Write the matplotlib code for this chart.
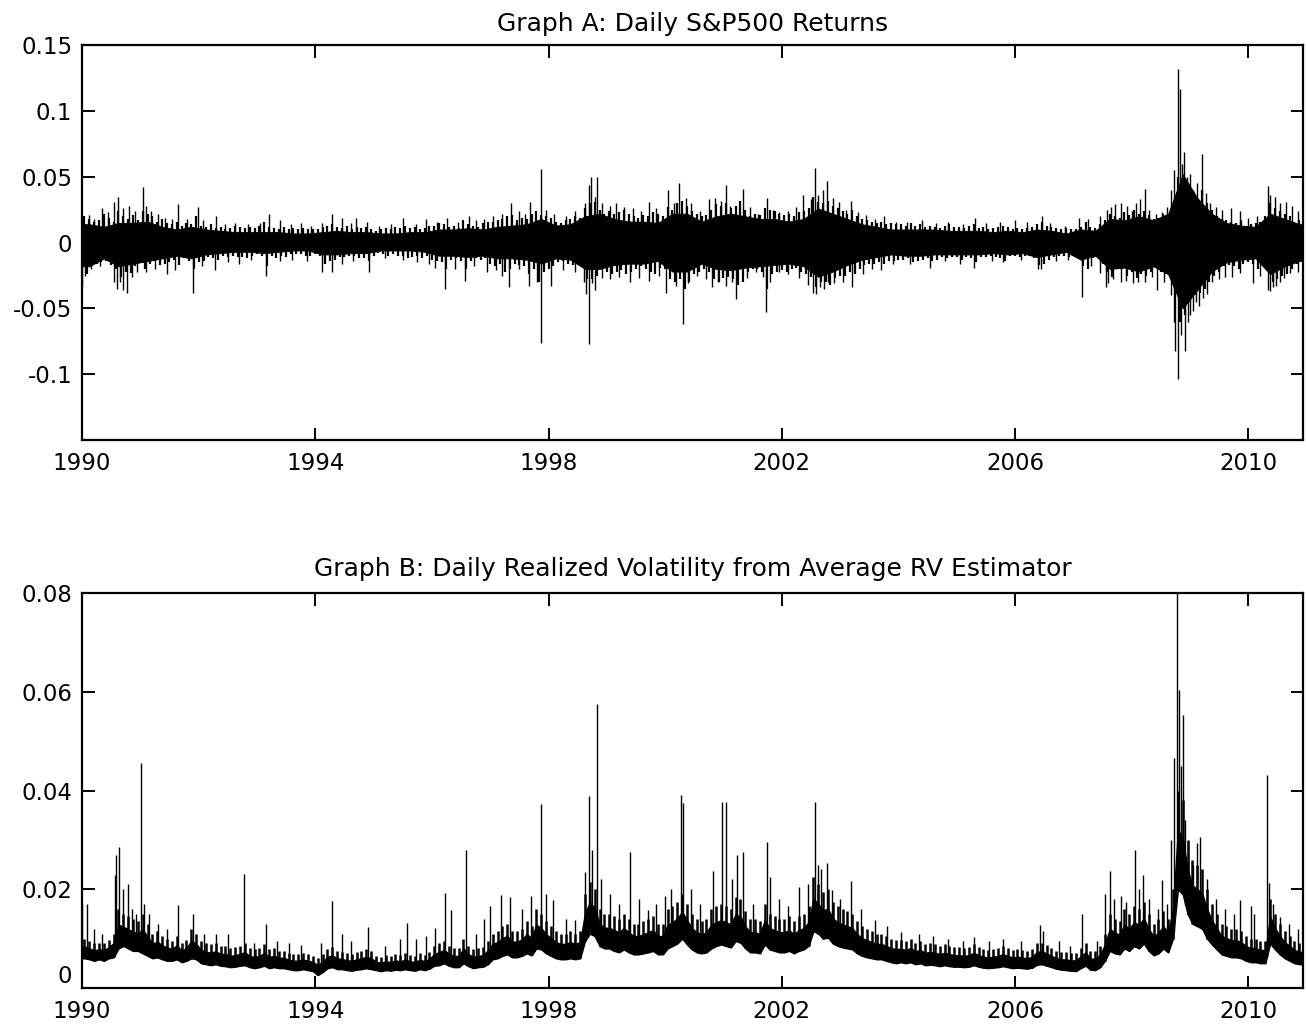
import numpy as np
import matplotlib
matplotlib.use("Agg")
import matplotlib.pyplot as plt

plt.rcParams["font.family"] = ["DejaVu Sans"]
plt.rcParams["font.size"] = 16.5

# ---------------- Graph A: daily returns ----------------
# dense core of the returns per quarter (1990Q1 .. 2010Q4)
ret_core_hi = [0.014, 0.012, 0.015, 0.015, 0.016, 0.012, 0.010, 0.012,
               0.010, 0.009, 0.008, 0.008, 0.008, 0.008, 0.007, 0.007,
               0.008, 0.009, 0.008, 0.008, 0.007, 0.007, 0.008, 0.008,
               0.010, 0.010, 0.011, 0.010, 0.012, 0.013, 0.014, 0.018,
               0.013, 0.014, 0.020, 0.022, 0.018, 0.016, 0.016, 0.015,
               0.022, 0.022, 0.016, 0.020, 0.022, 0.020, 0.018, 0.018,
               0.016, 0.018, 0.026, 0.022, 0.018, 0.014, 0.012, 0.010,
               0.010, 0.010, 0.010, 0.009, 0.009, 0.009, 0.008, 0.009,
               0.008, 0.010, 0.009, 0.007, 0.010, 0.009, 0.018, 0.017,
               0.020, 0.017, 0.022, 0.052, 0.034, 0.022, 0.015, 0.013,
               0.012, 0.022, 0.018, 0.014]
ret_core_lo = [-0.018, -0.012, -0.018, -0.016, -0.014, -0.012, -0.010, -0.012,
               -0.009, -0.008, -0.007, -0.007, -0.008, -0.007, -0.006, -0.006,
               -0.009, -0.009, -0.008, -0.008, -0.006, -0.006, -0.006, -0.007,
               -0.010, -0.010, -0.011, -0.010, -0.012, -0.012, -0.013, -0.016,
               -0.012, -0.013, -0.020, -0.020, -0.017, -0.016, -0.016, -0.014,
               -0.022, -0.022, -0.016, -0.020, -0.021, -0.019, -0.018, -0.017,
               -0.016, -0.018, -0.026, -0.022, -0.017, -0.013, -0.011, -0.009,
               -0.010, -0.010, -0.009, -0.009, -0.009, -0.009, -0.008, -0.009,
               -0.008, -0.011, -0.009, -0.007, -0.013, -0.010, -0.020, -0.019,
               -0.022, -0.018, -0.024, -0.050, -0.036, -0.022, -0.015, -0.013,
               -0.012, -0.024, -0.018, -0.014]

# largest up / down move of each month (Jan 1990 .. Nov 2010)
ret_month_up = [
    .020, .018, .016, .017, .022, .019, .016, .024, .020, .018, .021, .017,
    .024, .022, .020, .016, .018, .015, .014, .016, .013, .015, .014, .020,
    .013, .012, .014, .011, .012, .010, .011, .013, .012, .011, .012, .011,
    .013, .016, .012, .011, .010, .012, .010, .011, .010, .011, .010, .010,
    .010, .012, .013, .014, .012, .011, .013, .010, .012, .011, .012, .010,
    .009, .010, .011, .010, .012, .011, .013, .011, .012, .010, .011, .013,
    .013, .015, .014, .012, .013, .011, .017, .014, .013, .012, .015, .016,
    .016, .017, .018, .020, .021, .017, .019, .018, .022, .024, .021, .020,
    .019, .016, .015, .017, .018, .020, .019, .026, .030, .031, .025, .022,
    .024, .022, .023, .025, .022, .020, .019, .021, .020, .023, .022, .020,
    .027, .025, .030, .032, .028, .024, .022, .020, .021, .025, .029, .028,
    .030, .026, .028, .032, .025, .020, .022, .021, .026, .025, .024, .022,
    .021, .022, .020, .023, .024, .026, .035, .031, .030, .032, .028, .026,
    .024, .022, .025, .020, .018, .017, .016, .015, .016, .014, .015, .014,
    .014, .013, .015, .013, .014, .012, .013, .012, .011, .013, .014, .012,
    .012, .011, .013, .014, .011, .012, .010, .011, .012, .013, .012, .010,
    .011, .010, .011, .012, .014, .016, .013, .012, .011, .010, .011, .010,
    .010, .012, .016, .012, .011, .014, .017, .022, .020, .019, .023, .021,
    .025, .022, .024, .021, .018, .019, .022, .021, .028, .050, .045, .040,
    .035, .032, .040, .030, .025, .020, .018, .017, .016, .015, .017, .013,
    .014, .015, .016, .020, .030, .026, .024, .022, .020, .016, .017]
ret_month_dn = [
    -.024, -.018, -.016, -.015, -.014, -.017, -.020, -.026, -.022, -.023, -.018, -.015,
    -.020, -.016, -.014, -.017, -.016, -.015, -.013, -.017, -.012, -.014, -.020, -.015,
    -.014, -.011, -.012, -.013, -.010, -.011, -.010, -.011, -.011, -.012, -.010, -.009,
    -.010, -.018, -.010, -.012, -.010, -.011, -.009, -.009, -.009, -.010, -.010, -.009,
    -.010, -.016, -.014, -.013, -.011, -.011, -.010, -.010, -.012, -.012, -.014, -.010,
    -.008, -.009, -.010, -.009, -.010, -.010, -.012, -.011, -.010, -.012, -.010, -.013,
    -.014, -.015, -.020, -.013, -.012, -.014, -.020, -.014, -.012, -.013, -.012, -.016,
    -.018, -.016, -.022, -.020, -.016, -.017, -.018, -.024, -.020, -.030, -.022, -.020,
    -.018, -.015, -.014, -.016, -.017, -.016, -.018, -.028, -.028, -.025, -.020, -.022,
    -.024, -.022, -.021, -.024, -.022, -.020, -.018, -.020, -.022, -.024, -.019, -.020,
    -.028, -.030, -.028, -.035, -.030, -.024, -.022, -.020, -.022, -.028, -.030, -.027,
    -.026, -.028, -.032, -.030, -.022, -.020, -.020, -.022, -.035, -.024, -.022, -.021,
    -.022, -.020, -.019, -.022, -.024, -.026, -.034, -.030, -.030, -.032, -.027, -.025,
    -.025, -.022, -.024, -.020, -.017, -.016, -.016, -.015, -.016, -.014, -.014, -.013,
    -.013, -.012, -.015, -.014, -.013, -.012, -.014, -.013, -.011, -.012, -.011, -.011,
    -.013, -.011, -.012, -.015, -.011, -.011, -.010, -.011, -.012, -.014, -.010, -.010,
    -.011, -.010, -.010, -.012, -.017, -.016, -.013, -.011, -.010, -.010, -.011, -.010,
    -.011, -.018, -.020, -.012, -.011, -.016, -.022, -.026, -.020, -.020, -.025, -.022,
    -.027, -.024, -.025, -.022, -.019, -.022, -.024, -.020, -.035, -.060, -.055, -.045,
    -.040, -.038, -.035, -.030, -.025, -.022, -.018, -.017, -.018, -.020, -.016, -.015,
    -.016, -.020, -.014, -.015, -.030, -.028, -.025, -.024, -.020, -.016, -.014]

# individual large returns (decimal year, return)
ret_spike_t = [1990.00, 1990.02, 1990.05, 1990.12, 1990.15, 1990.20, 1990.30, 1990.35,
               1990.45, 1990.55, 1990.55, 1990.60, 1990.62, 1990.65, 1990.70, 1990.70,
               1990.77, 1990.80, 1990.85, 1990.90, 1990.95, 1991.04, 1991.10, 1991.10,
               1991.18, 1991.25, 1991.30, 1991.42, 1991.45, 1991.55, 1991.60, 1991.64,
               1991.80, 1991.90, 1991.99, 1992.05, 1992.08, 1992.28, 1992.29, 1992.45,
               1992.50, 1992.62, 1992.70, 1992.85, 1992.90, 1993.05, 1993.15, 1993.21,
               1993.40, 1993.40, 1993.58, 1993.60, 1993.75, 1993.85, 1993.92, 1994.12,
               1994.12, 1994.28, 1994.28, 1994.45, 1994.45, 1994.62, 1994.65, 1994.70,
               1994.88, 1994.92, 1995.10, 1995.20, 1995.30, 1995.50, 1995.50, 1995.72,
               1995.75, 1995.90, 1995.95, 1996.05, 1996.08, 1996.23, 1996.26, 1996.40,
               1996.45, 1996.57, 1996.63, 1996.72, 1996.75, 1996.90, 1996.95, 1997.05,
               1997.10, 1997.20, 1997.20, 1997.32, 1997.35, 1997.50, 1997.50, 1997.60,
               1997.67, 1997.69, 1997.80, 1997.87, 1997.87, 1997.95, 1998.05, 1998.10,
               1998.25, 1998.30, 1998.45, 1998.45, 1998.60, 1998.62, 1998.65, 1998.70,
               1998.70, 1998.73, 1998.75, 1998.80, 1998.80, 1998.83, 1998.92, 1998.92,
               1999.05, 1999.05, 1999.15, 1999.20, 1999.30, 1999.40, 1999.45, 1999.55,
               1999.58, 1999.72, 1999.72, 1999.85, 1999.90, 2000.02, 2000.05, 2000.15,
               2000.18, 2000.23, 2000.31, 2000.35, 2000.40, 2000.45, 2000.55, 2000.60,
               2000.70, 2000.75, 2000.80, 2000.85, 2000.90, 2000.95, 2001.04, 2001.05,
               2001.12, 2001.15, 2001.22, 2001.33, 2001.40, 2001.45, 2001.55, 2001.60,
               2001.68, 2001.73, 2001.75, 2001.80, 2001.85, 2001.95, 2001.95, 2002.10,
               2002.10, 2002.25, 2002.30, 2002.37, 2002.45, 2002.50, 2002.54, 2002.57,
               2002.58, 2002.62, 2002.65, 2002.70, 2002.72, 2002.78, 2002.80, 2002.88,
               2002.90, 2002.98, 2003.05, 2003.10, 2003.19, 2003.21, 2003.30, 2003.39,
               2003.45, 2003.55, 2003.60, 2003.70, 2003.76, 2003.90, 2003.95, 2004.15,
               2004.20, 2004.40, 2004.55, 2004.65, 2004.80, 2004.85, 2005.05, 2005.10,
               2005.30, 2005.32, 2005.50, 2005.60, 2005.75, 2005.80, 2006.00, 2006.10,
               2006.20, 2006.39, 2006.44, 2006.46, 2006.60, 2006.70, 2006.85, 2006.90,
               2007.10, 2007.15, 2007.25, 2007.30, 2007.45, 2007.45, 2007.56, 2007.58,
               2007.60, 2007.65, 2007.68, 2007.72, 2007.82, 2007.82, 2007.90, 2007.92,
               2008.00, 2008.02, 2008.08, 2008.10, 2008.15, 2008.22, 2008.23, 2008.30,
               2008.35, 2008.42, 2008.43, 2008.52, 2008.55, 2008.60, 2008.68, 2008.68,
               2008.72, 2008.73, 2008.75, 2008.79, 2008.80, 2008.83, 2008.85, 2008.86,
               2008.90, 2008.91, 2008.95, 2008.96, 2009.00, 2009.00, 2009.05, 2009.05,
               2009.10, 2009.12, 2009.16, 2009.20, 2009.22, 2009.28, 2009.29, 2009.35,
               2009.38, 2009.45, 2009.50, 2009.55, 2009.60, 2009.70, 2009.72, 2009.85,
               2009.86, 2010.00, 2010.08, 2010.15, 2010.20, 2010.33, 2010.33, 2010.37,
               2010.38, 2010.42, 2010.45, 2010.48, 2010.55, 2010.55, 2010.62, 2010.65,
               2010.72, 2010.75, 2010.85, 2010.85, 2010.93]
ret_spike_v = [-0.033, 0.019, -0.025, 0.021, -0.020, 0.018, -0.018, 0.026,
               0.023, 0.031, -0.030, -0.035, 0.035, -0.030, 0.026, -0.036,
               -0.038, 0.028, -0.026, 0.024, -0.022, 0.042, 0.028, -0.022,
               0.024, -0.020, 0.022, 0.019, -0.024, 0.018, -0.021, 0.029,
               0.018, -0.038, 0.027, -0.018, 0.017, -0.021, 0.020, 0.014,
               -0.015, 0.015, -0.016, 0.014, -0.013, 0.015, -0.025, 0.022,
               0.017, -0.014, 0.014, -0.013, 0.015, -0.014, 0.013, 0.015,
               -0.022, 0.022, -0.022, 0.019, -0.016, 0.015, -0.014, 0.019,
               0.016, -0.022, 0.013, -0.012, 0.014, 0.019, -0.013, 0.014,
               -0.015, 0.018, -0.016, -0.019, 0.016, -0.035, 0.019, -0.020,
               0.016, -0.029, 0.020, -0.018, 0.017, 0.018, -0.022, 0.020,
               -0.021, 0.022, -0.025, -0.034, 0.030, 0.024, -0.020, 0.022,
               -0.033, 0.031, -0.030, 0.056, -0.076, 0.025, -0.033, 0.022,
               -0.021, 0.020, 0.024, -0.022, -0.030, 0.030, -0.039, 0.044,
               -0.077, 0.050, -0.031, 0.035, -0.036, 0.050, 0.030, -0.027,
               0.028, -0.028, 0.030, -0.026, 0.027, -0.030, 0.026, -0.027,
               0.024, 0.031, -0.029, 0.026, -0.025, -0.038, 0.040, 0.030,
               -0.033, 0.045, -0.062, 0.034, -0.031, 0.030, -0.025, 0.024,
               -0.028, 0.033, -0.034, 0.034, -0.030, 0.032, 0.044, -0.033,
               0.028, -0.030, -0.043, 0.041, -0.027, 0.027, -0.022, 0.022,
               -0.026, -0.053, 0.034, -0.030, 0.025, 0.023, -0.022, 0.024,
               -0.024, 0.027, -0.027, 0.036, -0.032, 0.033, -0.038, 0.057,
               -0.039, 0.036, -0.034, 0.040, -0.035, 0.047, -0.030, 0.034,
               -0.031, 0.031, -0.030, 0.025, 0.032, -0.034, 0.023, -0.024,
               0.021, -0.020, 0.018, -0.021, 0.020, -0.016, 0.016, 0.016,
               -0.016, 0.017, -0.019, 0.015, -0.014, 0.016, -0.016, 0.014,
               -0.019, 0.019, 0.015, -0.014, 0.016, -0.015, 0.017, -0.013,
               0.016, -0.020, -0.020, 0.020, 0.015, -0.014, 0.013, -0.013,
               0.019, -0.041, 0.018, -0.018, 0.020, -0.023, -0.034, 0.025,
               -0.031, 0.027, -0.028, 0.029, 0.030, -0.030, -0.029, 0.028,
               0.024, -0.031, 0.030, -0.030, 0.033, 0.041, -0.030, 0.025,
               -0.026, 0.022, -0.036, 0.023, -0.030, 0.027, 0.040, -0.040,
               -0.060, 0.055, -0.082, 0.132, -0.104, 0.117, -0.070, 0.060,
               0.069, -0.082, 0.050, -0.060, 0.052, -0.055, 0.040, -0.052,
               -0.045, 0.045, -0.048, 0.067, -0.042, 0.038, -0.039, 0.030,
               -0.030, 0.027, -0.028, 0.025, -0.026, 0.026, -0.026, -0.023,
               0.024, 0.019, -0.031, 0.020, -0.025, 0.043, -0.036, -0.037,
               0.036, -0.034, 0.035, -0.033, 0.030, -0.030, -0.027, 0.031,
               -0.023, 0.028, 0.024, -0.022, -0.017]

# ---------------- Graph B: realized volatility ----------------
# upper / lower edge of the RV line per month (Jan 1990 .. Nov 2010)
rv_month_hi = [
    .0100, .0095, .0090, .0092, .0090, .0098, .0110, .0160, .0150, .0145, .0140, .0135,
    .0150, .0130, .0110, .0115, .0105, .0100, .0095, .0105, .0092, .0098, .0120, .0110,
    .0095, .0090, .0088, .0092, .0085, .0085, .0080, .0082, .0085, .0090, .0080, .0078,
    .0080, .0088, .0078, .0080, .0075, .0075, .0070, .0068, .0068, .0070, .0068, .0065,
    .0060, .0068, .0078, .0082, .0075, .0072, .0070, .0068, .0072, .0075, .0078, .0075,
    .0065, .0062, .0066, .0064, .0068, .0066, .0070, .0066, .0064, .0070, .0066, .0072,
    .0085, .0090, .0095, .0085, .0080, .0080, .0100, .0085, .0078, .0080, .0082, .0095,
    .0110, .0115, .0125, .0130, .0115, .0115, .0120, .0135, .0125, .0160, .0150, .0135,
    .0125, .0115, .0110, .0110, .0115, .0110, .0115, .0190, .0215, .0200, .0160, .0150,
    .0150, .0145, .0140, .0150, .0140, .0130, .0130, .0135, .0140, .0145, .0130, .0130,
    .0160, .0165, .0175, .0190, .0170, .0150, .0140, .0135, .0140, .0160, .0165, .0170,
    .0165, .0160, .0185, .0180, .0155, .0140, .0140, .0135, .0170, .0150, .0145, .0140,
    .0140, .0145, .0135, .0145, .0150, .0165, .0225, .0210, .0195, .0200, .0175, .0165,
    .0160, .0155, .0150, .0135, .0125, .0120, .0115, .0110, .0110, .0105, .0100, .0098,
    .0098, .0095, .0100, .0092, .0095, .0088, .0090, .0088, .0085, .0088, .0085, .0082,
    .0082, .0080, .0082, .0088, .0082, .0078, .0076, .0078, .0080, .0085, .0080, .0076,
    .0078, .0076, .0074, .0078, .0090, .0092, .0086, .0080, .0075, .0072, .0072, .0070,
    .0070, .0080, .0090, .0075, .0074, .0085, .0110, .0150, .0140, .0135, .0160, .0150,
    .0165, .0160, .0175, .0150, .0130, .0140, .0155, .0140, .0200, .0400, .0380, .0300,
    .0260, .0250, .0240, .0200, .0170, .0150, .0130, .0125, .0120, .0120, .0115, .0105,
    .0100, .0100, .0095, .0095, .0180, .0150, .0130, .0115, .0105, .0095, .0090]
rv_month_lo = [
    .0060, .0058, .0055, .0058, .0055, .0060, .0062, .0080, .0085, .0080, .0075, .0075,
    .0070, .0065, .0060, .0062, .0058, .0055, .0055, .0058, .0052, .0055, .0060, .0058,
    .0050, .0048, .0046, .0048, .0045, .0044, .0042, .0043, .0045, .0046, .0042, .0040,
    .0042, .0045, .0040, .0042, .0040, .0040, .0038, .0036, .0036, .0038, .0036, .0034,
    .0026, .0032, .0040, .0042, .0038, .0038, .0036, .0035, .0037, .0038, .0040, .0038,
    .0036, .0034, .0036, .0035, .0037, .0036, .0038, .0036, .0035, .0038, .0036, .0039,
    .0045, .0046, .0050, .0045, .0042, .0042, .0050, .0044, .0040, .0042, .0043, .0048,
    .0058, .0060, .0065, .0068, .0062, .0062, .0065, .0070, .0066, .0080, .0078, .0070,
    .0065, .0060, .0058, .0058, .0060, .0058, .0060, .0095, .0110, .0105, .0085, .0080,
    .0080, .0075, .0072, .0078, .0072, .0068, .0068, .0070, .0072, .0075, .0068, .0068,
    .0080, .0085, .0090, .0100, .0088, .0078, .0072, .0070, .0072, .0080, .0085, .0088,
    .0085, .0082, .0095, .0092, .0080, .0072, .0072, .0070, .0088, .0078, .0075, .0072,
    .0072, .0075, .0070, .0075, .0078, .0085, .0115, .0110, .0100, .0102, .0090, .0085,
    .0082, .0080, .0078, .0070, .0065, .0062, .0060, .0058, .0058, .0055, .0052, .0050,
    .0052, .0050, .0052, .0048, .0050, .0046, .0047, .0046, .0044, .0046, .0044, .0043,
    .0043, .0042, .0043, .0046, .0043, .0041, .0040, .0041, .0042, .0044, .0042, .0040,
    .0041, .0040, .0039, .0041, .0047, .0048, .0045, .0042, .0039, .0037, .0036, .0035,
    .0034, .0040, .0045, .0037, .0036, .0042, .0055, .0075, .0070, .0068, .0080, .0075,
    .0085, .0080, .0090, .0075, .0066, .0070, .0080, .0072, .0100, .0200, .0190, .0150,
    .0130, .0125, .0120, .0100, .0088, .0078, .0068, .0065, .0062, .0062, .0060, .0055,
    .0052, .0052, .0050, .0050, .0090, .0078, .0068, .0060, .0055, .0050, .0048]

rv_spike_t = [1990.00, 1990.08, 1990.20, 1990.35, 1990.57, 1990.59, 1990.64, 1990.70,
              1990.78, 1990.85, 1990.92, 1991.02, 1991.06, 1991.15, 1991.30, 1991.45,
              1991.64, 1991.90, 1992.10, 1992.30, 1992.51, 1992.78, 1992.95, 1993.16,
              1993.35, 1993.55, 1993.76, 1994.10, 1994.28, 1994.45, 1994.62, 1994.91,
              1995.20, 1995.45, 1995.58, 1995.72, 1995.90, 1996.05, 1996.23, 1996.33,
              1996.58, 1996.75, 1996.90, 1997.00, 1997.19, 1997.34, 1997.55, 1997.70,
              1997.87, 1997.95, 1998.07, 1998.30, 1998.45, 1998.63, 1998.70, 1998.75,
              1998.83, 1998.90, 1999.05, 1999.20, 1999.39, 1999.55, 1999.70, 1999.85,
              2000.00, 2000.10, 2000.28, 2000.31, 2000.45, 2000.60, 2000.82, 2000.97,
              2001.04, 2001.15, 2001.23, 2001.33, 2001.50, 2001.74, 2001.80, 2001.95,
              2002.10, 2002.30, 2002.45, 2002.57, 2002.62, 2002.68, 2002.77, 2002.86,
              2003.00, 2003.18, 2003.35, 2003.59, 2003.80, 2004.05, 2004.35, 2004.60,
              2004.85, 2005.10, 2005.30, 2005.55, 2005.80, 2006.10, 2006.42, 2006.48,
              2006.75, 2006.95, 2007.15, 2007.40, 2007.55, 2007.62, 2007.70, 2007.82,
              2007.90, 2008.06, 2008.12, 2008.20, 2008.30, 2008.45, 2008.52, 2008.60,
              2008.68, 2008.72, 2008.78, 2008.82, 2008.85, 2008.88, 2008.92, 2008.97,
              2009.05, 2009.12, 2009.18, 2009.30, 2009.45, 2009.60, 2009.75, 2009.86,
              2010.05, 2010.10, 2010.32, 2010.36, 2010.42, 2010.55, 2010.70, 2010.85]
rv_spike_v = [0.0171, 0.0171, 0.0120, 0.0110, 0.0229, 0.0269, 0.0285, 0.0200,
              0.0211, 0.0160, 0.0150, 0.0456, 0.0171, 0.0150, 0.0130, 0.0120,
              0.0169, 0.0150, 0.0110, 0.0110, 0.0110, 0.0230, 0.0090, 0.0129,
              0.0095, 0.0090, 0.0087, 0.0090, 0.0176, 0.0110, 0.0095, 0.0124,
              0.0085, 0.0100, 0.0131, 0.0100, 0.0105, 0.0121, 0.0193, 0.0158,
              0.0280, 0.0110, 0.0140, 0.0165, 0.0188, 0.0185, 0.0160, 0.0186,
              0.0373, 0.0190, 0.0178, 0.0140, 0.0138, 0.0234, 0.0389, 0.0280,
              0.0575, 0.0220, 0.0190, 0.0170, 0.0276, 0.0180, 0.0158, 0.0170,
              0.0186, 0.0200, 0.0391, 0.0374, 0.0200, 0.0170, 0.0236, 0.0376,
              0.0376, 0.0220, 0.0269, 0.0276, 0.0170, 0.0296, 0.0225, 0.0180,
              0.0165, 0.0205, 0.0210, 0.0376, 0.0250, 0.0240, 0.0254, 0.0198,
              0.0180, 0.0217, 0.0160, 0.0138, 0.0125, 0.0114, 0.0110, 0.0105,
              0.0100, 0.0095, 0.0104, 0.0095, 0.0100, 0.0095, 0.0128, 0.0115,
              0.0095, 0.0085, 0.0150, 0.0095, 0.0190, 0.0236, 0.0180, 0.0186,
              0.0175, 0.0280, 0.0200, 0.0229, 0.0180, 0.0160, 0.0219, 0.0170,
              0.0300, 0.0465, 0.0800, 0.0604, 0.0450, 0.0553, 0.0340, 0.0293,
              0.0250, 0.0293, 0.0306, 0.0220, 0.0180, 0.0160, 0.0150, 0.0178,
              0.0166, 0.0150, 0.0431, 0.0212, 0.0171, 0.0144, 0.0130, 0.0120]

year_ticks = [1990, 1994, 1998, 2002, 2006, 2010]
t_start, t_end = 1990.0, 2010.94


def banda(t, vals):
    # hold the first / last value out to the axis edges
    vals = np.asarray(vals)
    return np.r_[t_start, t, t_end], np.r_[vals[0], vals, vals[-1]]


def estilo(ax):
    ax.set_xlim(t_start, t_end)
    ax.set_xticks(year_ticks)
    ax.tick_params(direction="in", length=9, width=1.4, top=True, right=True,
                   labelsize=16.5, pad=7)
    ax.tick_params(axis="x", pad=9)
    for s in ax.spines.values():
        s.set_linewidth(1.6)


t_q = 1990.125 + 0.25 * np.arange(len(ret_core_hi))
t_m = 1990 + (np.arange(len(rv_month_hi)) + 0.5) / 12

fig = plt.figure(figsize=(13.06, 10.28), dpi=100)
ax1 = fig.add_axes([0.0628, 0.572, 0.935, 0.384])
ax2 = fig.add_axes([0.0628, 0.039, 0.935, 0.384])

# Graph A
tb, lo = banda(t_q, ret_core_lo)
_, hi = banda(t_q, ret_core_hi)
ax1.fill_between(tb, lo, hi, color="black", linewidth=0.6)
ax1.vlines(t_m, 0, ret_month_up, color="black", linewidth=1.6)
ax1.vlines(t_m + 1 / 24, 0, ret_month_dn, color="black", linewidth=1.6)
ax1.vlines(ret_spike_t, 0, ret_spike_v, color="black", linewidth=1.0)
ax1.set_ylim(-0.15, 0.15)
ax1.set_yticks([-0.1, -0.05, 0, 0.05, 0.1, 0.15])
ax1.set_yticklabels(["-0.1", "-0.05", "0", "0.05", "0.1", "0.15"])
ax1.set_title("Graph A: Daily S&P500 Returns", fontsize=18, pad=10)
estilo(ax1)

# Graph B: solid body in the lower part, monthly highs as a ragged comb
rv_lo = np.asarray(rv_month_lo)
rv_hi = np.asarray(rv_month_hi)
tb, lo = banda(t_m, rv_lo)
_, mid = banda(t_m, rv_lo + 0.6 * (rv_hi - rv_lo))
ax2.fill_between(tb, lo, mid, color="black", linewidth=1.0)
ax2.vlines(t_m, rv_lo, rv_hi, color="black", linewidth=1.8)
base = np.interp(rv_spike_t, tb, lo)
ax2.vlines(rv_spike_t, base, rv_spike_v, color="black", linewidth=1.0)
ax2.set_ylim(0, 0.08)
ax2.set_yticks([0, 0.02, 0.04, 0.06, 0.08])
ax2.set_yticklabels(["0", "0.02", "0.04", "0.06", "0.08"])
ax2.get_yticklabels()[0].set_verticalalignment("bottom")
ax2.set_title("Graph B: Daily Realized Volatility from Average RV Estimator",
              fontsize=18, pad=12)
estilo(ax2)

fig.savefig("out.png", dpi=100)
